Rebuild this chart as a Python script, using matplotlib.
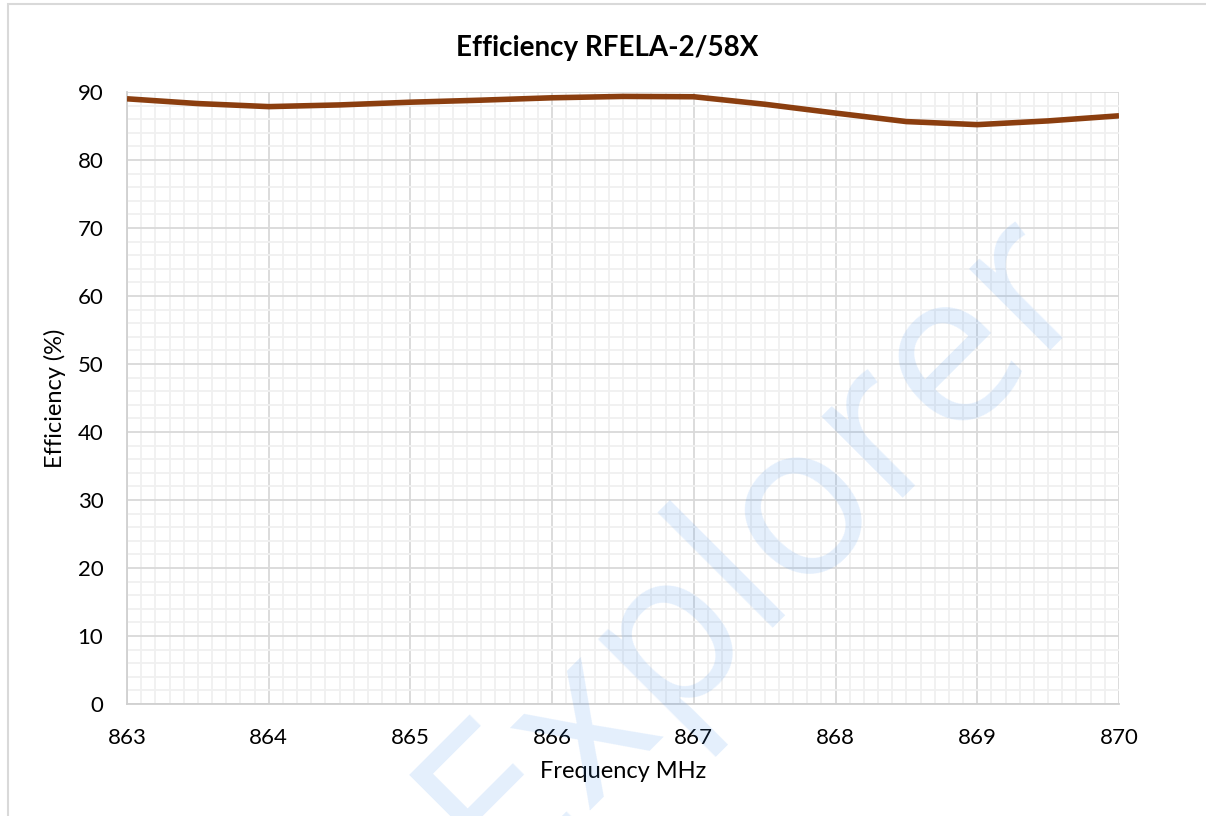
import numpy as np
import matplotlib
matplotlib.use("Agg")
import matplotlib.pyplot as plt
from matplotlib.ticker import MultipleLocator
from matplotlib.patches import Rectangle

# values
freq = [863.0, 863.5, 864.0, 864.5, 865.0, 865.5, 866.0, 866.5,
        867.0, 867.5, 868.0, 868.5, 869.0, 869.5, 870.0]
eff = [89.0, 88.3, 87.85, 88.1, 88.5, 88.8, 89.15, 89.35,
       89.3, 88.2, 86.9, 85.65, 85.2, 85.75, 86.5]

title = "Efficiency RFELA-2/58X"
xlabel = "Frequency MHz"
ylabel = "Efficiency (%)"
watermark = "Explorer"

plt.rcParams['font.family'] = ['Lato', 'DejaVu Sans']

fig = plt.figure(figsize=(12.06, 8.16), dpi=100)
ax = fig.add_axes([127/1206, 112/816, 992/1206, 612/816])

ax.plot(freq, eff, color='#8B3E0F', lw=4, solid_capstyle='butt',
        solid_joinstyle='round', zorder=3)

ax.set_xlim(863, 870)
ax.set_ylim(0, 90)
ax.xaxis.set_major_locator(MultipleLocator(1))
ax.xaxis.set_minor_locator(MultipleLocator(0.1))
ax.yaxis.set_major_locator(MultipleLocator(10))
ax.yaxis.set_minor_locator(MultipleLocator(2))
ax.grid(which='major', color='#D9D9D9', lw=1.3, zorder=1)
ax.grid(which='minor', color='#F0F0F0', lw=1.3, zorder=0)
ax.set_axisbelow(True)
for s in ['top', 'right']:
    ax.spines[s].set_visible(False)
for s in ['left', 'bottom']:
    ax.spines[s].set_color('#D0D0D0')
    ax.spines[s].set_linewidth(1.3)
ax.tick_params(which='both', length=0, labelsize=16, colors='black')
ax.tick_params(axis='x', pad=17)
ax.tick_params(axis='y', pad=17)

ax.set_title(title, fontsize=20, fontweight='bold', pad=26, x=0.484)
ax.set_xlabel(xlabel, fontsize=17, labelpad=10)
ax.set_ylabel(ylabel, fontsize=17, labelpad=8)

# outer chart border
fig.patches.append(Rectangle((8/1206, -0.1), 1.2, (816-4)/816 + 0.1,
                             transform=fig.transFigure, fill=False,
                             edgecolor='#D9D9D9', lw=1.5))

# watermark
fig.text(0.627, 0.332, watermark, fontsize=155, rotation=45,
         color='#3D8EF0', alpha=0.14, ha='center', va='center',
         family=['Open Sans', 'DejaVu Sans'], zorder=10)

fig.savefig("out.png", dpi=100)
